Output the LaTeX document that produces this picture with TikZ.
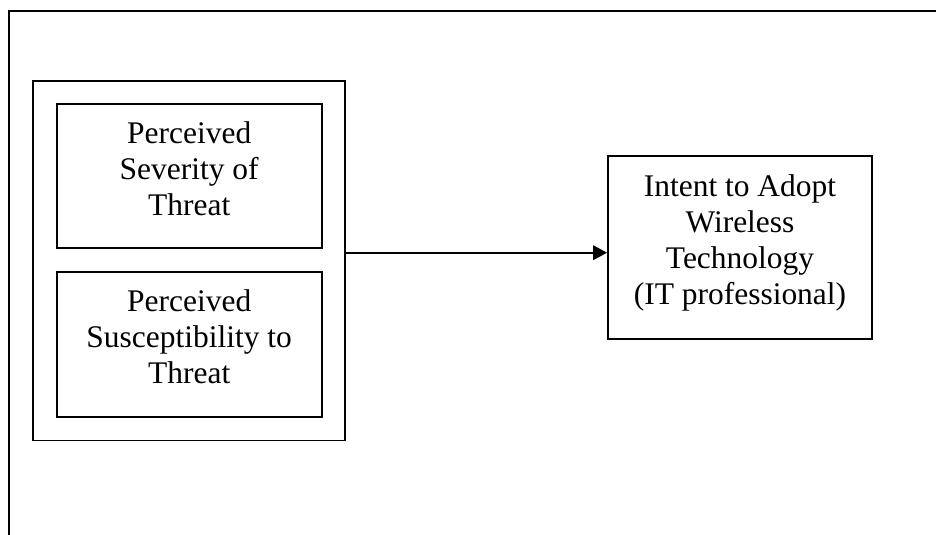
\documentclass[tikz,border=0pt]{standalone}
\usepackage{fontspec}
\setmainfont{Liberation Serif}
\usetikzlibrary{arrows.meta}
\begin{document}
\begin{tikzpicture}[x=0.75pt,y=-0.75pt,
  frame/.style={line width=1.4pt},
  box/.style={draw,line width=1.4pt,inner sep=0pt},
  lbl/.style={align=center,inner sep=0pt,font=\fontsize{23.6}{27}\selectfont},
  link/.style={line width=1.2pt,-{Triangle[length=10.5pt,width=11pt]}}]
\useasboundingbox (0,0) rectangle (936,535);
% page frame (open at right and bottom)
\draw[frame] (9,535) -- (9,11) -- (936,11);

% group of the two threat constructs
\node[box,minimum width=234.2pt,minimum height=269.9pt] (group) at (188.85,260.6) {};
\node[box,minimum width=198.75pt,minimum height=108pt] (sev) at (189.2,176) {};
\node[box,minimum width=198.75pt,minimum height=108.5pt] (sus) at (189.2,344.3) {};
\node[lbl] (sevt) at ([yshift=5.1pt]sev.center) {Perceived\\Severity of\\Threat};
\node[lbl] (sust) at ([yshift=5.3pt]sus.center) {Perceived\\Susceptibility to\\Threat};

% outcome
\node[box,minimum width=198pt,minimum height=137.5pt] (intent) at (740,247.35) {};
\node[lbl] (intentt) at ([yshift=3pt]intent.center) {Intent to Adopt\\Wireless\\Technology\\(IT professional)};

% effect arrow
\coordinate (ay) at (0,252.7);
\draw[link] (group.east |- ay) -- (intent.west |- ay);
\end{tikzpicture}
\end{document}
